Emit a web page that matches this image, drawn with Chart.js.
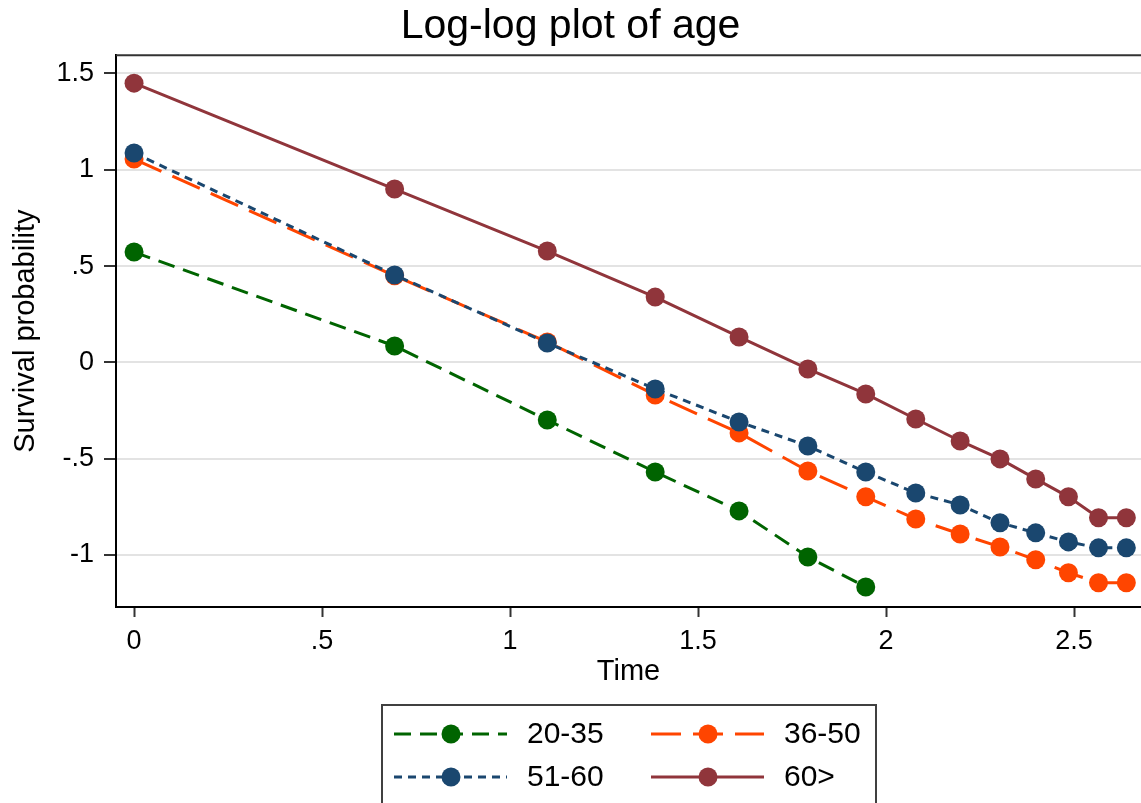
<!DOCTYPE html>
<html>
<head>
<meta charset="utf-8">
<script src="https://cdn.jsdelivr.net/npm/chart.js@4/dist/chart.umd.min.js"></script>
<style>
  html, body { margin: 0; padding: 0; background: #fff; }
</style>
</head>
<body>
<canvas id="chart" width="1141" height="803"></canvas>
<script>
// log(time) values on the x axis
const logTime = [0, 0.693, 1.099, 1.386, 1.609, 1.792, 1.946, 2.079, 2.197, 2.303, 2.398, 2.485, 2.565, 2.639];

const age20to35 = [0.573, 0.085, -0.299, -0.569, -0.771, -1.01, -1.166];
const age36to50 = [1.056, 0.45, 0.106, -0.169, -0.366, -0.564, -0.698, -0.813, -0.891, -0.958, -1.025, -1.092, -1.144, -1.144];
const age51to60 = [1.087, 0.454, 0.101, -0.138, -0.309, -0.434, -0.569, -0.678, -0.74, -0.833, -0.885, -0.932, -0.963, -0.963];
const age60plus = [1.45, 0.9, 0.578, 0.339, 0.132, -0.034, -0.164, -0.294, -0.408, -0.501, -0.605, -0.698, -0.807, -0.807];

const groupLabels = ['20-35', '36-50', '51-60', '60>'];
const xTicks = [0, 0.5, 1, 1.5, 2, 2.5];
const yTicks = [-1, -0.5, 0, 0.5, 1, 1.5];

const FONT = '"Liberation Sans", Arial, sans-serif';

// stata style labels: .5 instead of 0.5
const stataNum = v => String(v).replace(/^(-?)0\./, '$1.');

const toPoints = ys => ys.map((y, i) => ({ x: logTime[i], y }));

function makeSeries(label, ys, color, dash, order) {
    return {
        label, data: toPoints(ys),
        borderColor: color, backgroundColor: color,
        borderWidth: 3, borderDash: dash,
        pointRadius: 9.5, pointHoverRadius: 9.5, pointBorderWidth: 0,
        pointBackgroundColor: color,
        order
    };
}

const datasets = [
    makeSeries(groupLabels[0], age20to35, '#006400', [17, 9], 3),
    makeSeries(groupLabels[1], age36to50, '#ff4500', [30, 12], 2),
    makeSeries(groupLabels[2], age51to60, '#1a476f', [8, 6], 1),
    makeSeries(groupLabels[3], age60plus, '#90353b', [], 0)
];

// frame line on top of plot region + the boxed legend below
const stataExtras = {
    id: 'stataExtras',
    beforeDatasetsDraw(chart) {
        const { ctx, chartArea } = chart;
        ctx.save();
        ctx.strokeStyle = '#333';
        ctx.lineWidth = 2;
        ctx.beginPath();
        ctx.moveTo(chartArea.left, chartArea.top);
        ctx.lineTo(chartArea.right, chartArea.top);
        ctx.stroke();
        ctx.restore();
    },
    afterDraw(chart) {
        const { ctx, chartArea } = chart;
        const boxW = 494, boxTop = 705;
        const boxLeft = Math.round((chartArea.left + chartArea.right) / 2 - boxW / 2);
        ctx.save();
        ctx.strokeStyle = '#404040';
        ctx.lineWidth = 2;
        ctx.strokeRect(boxLeft, boxTop, boxW, 130);

        chart.data.datasets.forEach((ds, i) => {
            const col = i % 2, row = Math.floor(i / 2);
            const x0 = boxLeft + 12 + col * 257;
            const y = boxTop + 29 + row * 43;
            ctx.strokeStyle = ds.borderColor;
            ctx.lineWidth = ds.borderWidth;
            ctx.setLineDash(ds.borderDash);
            ctx.beginPath();
            ctx.moveTo(x0, y);
            ctx.lineTo(x0 + 113, y);
            ctx.stroke();
            ctx.setLineDash([]);
            ctx.fillStyle = ds.pointBackgroundColor;
            ctx.beginPath();
            ctx.arc(x0 + 57, y, 9.5, 0, Math.PI * 2);
            ctx.fill();
            ctx.fillStyle = '#000';
            ctx.font = '30px ' + FONT;
            ctx.textBaseline = 'middle';
            ctx.textAlign = 'left';
            ctx.fillText(ds.label, x0 + 133, y + 1);
        });
        ctx.restore();
    }
};

new Chart(document.getElementById('chart'), {
    type: 'line',
    data: { datasets },
    plugins: [stataExtras],
    options: {
        responsive: false,
        animation: false,
        layout: { autoPadding: false, padding: { top: 0, right: 0, bottom: 112, left: 0 } },
        plugins: {
            legend: { display: false },
            tooltip: { enabled: false },
            title: {
                display: true,
                text: 'Log-log plot of age',
                color: '#000',
                font: { family: FONT, size: 41, weight: 'normal' },
                padding: { top: 2, bottom: 4 }
            }
        },
        scales: {
            x: {
                type: 'linear',
                min: -0.048, max: 2.678,
                afterBuildTicks: s => { s.ticks = xTicks.map(v => ({ value: v })); },
                afterFit: s => { s.height = 84; s.paddingLeft = 0; s.paddingRight = 0; },
                ticks: {
                    color: '#000', padding: 8,
                    font: { family: FONT, size: 27 },
                    callback: v => stataNum(v),
                    maxRotation: 0
                },
                grid: { drawOnChartArea: false, drawTicks: true, tickLength: 10, tickColor: '#333', tickWidth: 2 },
                border: { color: '#000', width: 2 },
                title: {
                    display: true, text: 'Time', color: '#000',
                    font: { family: FONT, size: 29 },
                    padding: { top: 0, bottom: 2 }
                }
            },
            y: {
                type: 'linear',
                min: -1.27, max: 1.595,
                afterBuildTicks: s => { s.ticks = yTicks.map(v => ({ value: v })); },
                afterFit: s => { s.width = 116; s.paddingTop = 0; s.paddingBottom = 0; },
                ticks: {
                    color: '#000', padding: 10,
                    font: { family: FONT, size: 27 },
                    callback: v => stataNum(v)
                },
                grid: { color: '#e3e3e3', lineWidth: 2, tickLength: 12, tickColor: '#333', tickWidth: 2 },
                border: { color: '#000', width: 2 },
                title: {
                    display: true, text: 'Survival probability', color: '#000',
                    font: { family: FONT, size: 29 },
                    padding: { top: 9, bottom: 0 }
                }
            }
        }
    }
});
</script>
</body>
</html>
